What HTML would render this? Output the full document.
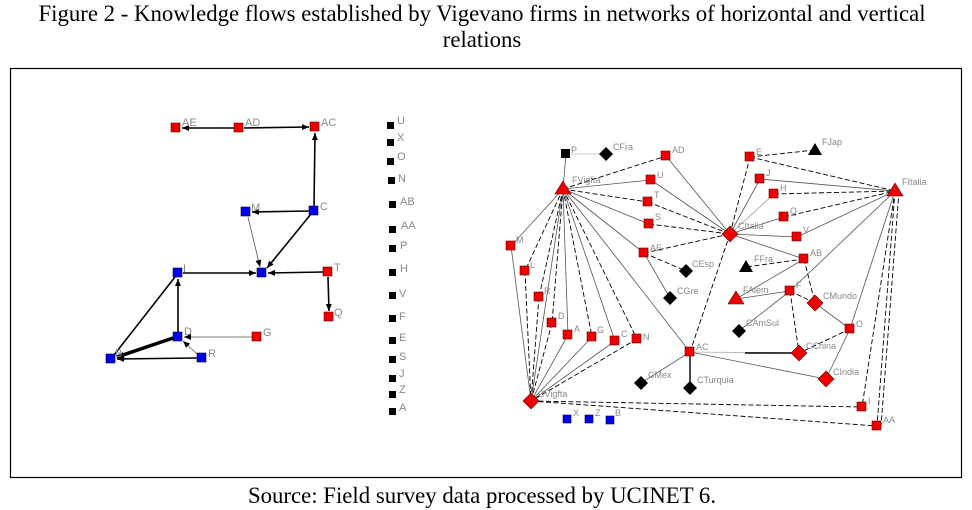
<!DOCTYPE html>
<html><head><meta charset="utf-8"><style>
html,body{margin:0;padding:0;background:#fff;width:972px;height:510px;overflow:hidden}
svg{display:block}
.t{font-family:"Liberation Serif",serif;font-size:22.8px;fill:#000}
.l{font-family:"Liberation Sans",sans-serif;font-size:11px;fill:#888}
.s{font-family:"Liberation Sans",sans-serif;font-size:9px;fill:#888}
.e{stroke:#000;stroke-width:1.6;fill:none}
.g{stroke:#555;stroke-width:0.8;fill:none}
.d{stroke:#000;stroke-width:0.9;stroke-dasharray:5,2.5;fill:none}
.r{fill:#e00;stroke:#600;stroke-width:0.6}
.b{fill:#00e;stroke:#003;stroke-width:0.6}
.k{fill:#000}
</style></head><body>
<svg width="972" height="510" viewBox="0 0 972 510" xmlns="http://www.w3.org/2000/svg">
<defs><marker id="a" markerWidth="8" markerHeight="8" refX="7" refY="3" orient="auto" markerUnits="userSpaceOnUse"><path d="M0,0 L7,3 L0,6 z" fill="#000"/></marker></defs>
<text class="t" x="482" y="21" text-anchor="middle">Figure 2 - Knowledge flows established by Vigevano firms in networks of horizontal and vertical</text>
<text class="t" x="482" y="47" text-anchor="middle">relations</text>
<rect x="10.5" y="68.5" width="951" height="409" fill="none" stroke="#000" stroke-width="1.2"/>
<text class="t" x="482" y="503" text-anchor="middle">Source: Field survey data processed by UCINET 6.</text>

<!-- LEFT GRAPH -->
<g class="e">
<line x1="234" y1="128" x2="182" y2="128" marker-end="url(#a)"/>
<line x1="244" y1="128" x2="309" y2="127" marker-end="url(#a)"/>
<line x1="314" y1="206" x2="315" y2="133" marker-end="url(#a)"/>
<line x1="309" y1="211" x2="252" y2="212" marker-end="url(#a)"/>
<line x1="311" y1="214" x2="267" y2="268" marker-end="url(#a)"/>
<line x1="183" y1="273" x2="256" y2="273" marker-end="url(#a)"/>
<line x1="323" y1="272" x2="268" y2="273" marker-end="url(#a)"/>
<line x1="328" y1="277" x2="329" y2="311" marker-end="url(#a)"/>
<line x1="178" y1="332" x2="178" y2="279" marker-end="url(#a)"/>
<line x1="114" y1="355" x2="175" y2="277"/>
<line x1="197" y1="358" x2="117" y2="359" marker-end="url(#a)"/>
<line x1="173" y1="338" x2="117" y2="357" stroke-width="3.5" marker-end="url(#a)"/>
</g>
<g class="g">
<line x1="248" y1="217" x2="260" y2="267" marker-end="url(#a)"/>
<line x1="252" y1="337" x2="184" y2="337" marker-end="url(#a)"/>
<line x1="198" y1="355" x2="183" y2="341" marker-end="url(#a)"/>
</g>
<g>
<rect class="r" x="171" y="123" width="9" height="9"/><rect class="r" x="234" y="123" width="9" height="9"/><rect class="r" x="310" y="122" width="9" height="9"/>
<rect class="b" x="241" y="207" width="9" height="9"/><rect class="b" x="309" y="206" width="9" height="9"/>
<rect class="b" x="257" y="268" width="9" height="9"/><rect class="b" x="173" y="268" width="9" height="9"/>
<rect class="r" x="323" y="267" width="9" height="9"/><rect class="r" x="324" y="312" width="9" height="9"/>
<rect class="b" x="173" y="332" width="9" height="9"/><rect class="r" x="252" y="332" width="9" height="9"/>
<rect class="b" x="197" y="353" width="9" height="9"/><rect class="b" x="106" y="354" width="9" height="9"/>
</g>
<g class="l">
<text x="182" y="126">AE</text><text x="245" y="126">AD</text><text x="321" y="126">AC</text>
<text x="251" y="211">M</text><text x="320" y="210">C</text><text x="183" y="272">I</text>
<text x="334" y="271">T</text><text x="334" y="316">Q</text><text x="184" y="335">D</text>
<text x="263" y="336">G</text><text x="208" y="357">R</text><text x="115" y="357">B</text>
</g>

<!-- ISOLATES -->
<g class="k">
<rect x="387" y="122" width="7" height="7"/><rect x="387" y="139" width="7" height="7"/><rect x="387" y="158" width="7" height="7"/>
<rect x="388" y="177" width="7" height="7"/><rect x="389" y="201" width="7" height="7"/><rect x="389" y="226" width="7" height="7"/>
<rect x="389" y="245" width="7" height="7"/><rect x="389" y="269" width="7" height="7"/><rect x="389" y="292" width="7" height="7"/>
<rect x="389" y="315" width="7" height="7"/><rect x="389" y="337" width="7" height="7"/><rect x="389" y="356" width="7" height="7"/>
<rect x="389" y="375" width="7" height="7"/><rect x="389" y="391" width="7" height="7"/><rect x="389" y="408" width="7" height="7"/>
</g>
<g class="l">
<text x="397" y="124">U</text><text x="397" y="141">X</text><text x="397" y="160">O</text><text x="398" y="182">N</text>
<text x="400" y="205">AB</text><text x="401" y="229">AA</text><text x="400" y="249">P</text><text x="400" y="272">H</text>
<text x="399" y="297">V</text><text x="399" y="320">F</text><text x="399" y="341">E</text><text x="399" y="360">S</text>
<text x="399" y="377">J</text><text x="399" y="393">Z</text><text x="399" y="411">A</text>
</g>

<!-- RIGHT GRAPH EDGES -->
<g class="g">
<line x1="566" y1="154" x2="563" y2="189"/>
<line x1="566" y1="154" x2="606" y2="154" stroke="#bbb"/>
<line x1="563" y1="189" x2="651" y2="180"/>
<line x1="563" y1="189" x2="649" y2="224"/>
<line x1="563" y1="189" x2="644" y2="253"/>
<line x1="563" y1="189" x2="511" y2="246"/>
<line x1="563" y1="189" x2="568" y2="335"/>
<line x1="563" y1="189" x2="615" y2="341"/>
<line x1="563" y1="189" x2="690" y2="352"/>
<line x1="563" y1="189" x2="531" y2="401"/>
<line x1="644" y1="253" x2="670" y2="298"/>
<line x1="666" y1="156" x2="730" y2="234"/>
<line x1="651" y1="180" x2="730" y2="234"/>
<line x1="730" y1="234" x2="760" y2="179"/>
<line x1="730" y1="234" x2="774" y2="194" stroke="#999"/>
<line x1="730" y1="234" x2="784" y2="217"/>
<line x1="730" y1="234" x2="797" y2="237"/>
<line x1="730" y1="234" x2="804" y2="259"/>
<line x1="760" y1="179" x2="895" y2="191"/>
<line x1="797" y1="237" x2="895" y2="191"/>
<line x1="804" y1="259" x2="736" y2="299"/>
<line x1="790" y1="291" x2="895" y2="191"/>
<line x1="850" y1="329" x2="895" y2="191"/>
<line x1="790" y1="291" x2="736" y2="299"/>
<line x1="790" y1="291" x2="739" y2="331"/>
<line x1="815" y1="303" x2="850" y2="329"/>
<line x1="850" y1="329" x2="826" y2="379"/>
<line x1="690" y1="352" x2="641" y2="383"/>
<line x1="690" y1="352" x2="826" y2="379"/>
<line x1="690" y1="352" x2="799" y2="353" stroke="#aaa"/>
<line x1="531" y1="401" x2="568" y2="335"/>
<line x1="531" y1="401" x2="592" y2="337"/>
<line x1="531" y1="401" x2="615" y2="341"/>
<line x1="511" y1="246" x2="531" y2="401"/>
</g>
<g class="d">
<line x1="563" y1="189" x2="666" y2="156"/>
<line x1="563" y1="189" x2="648" y2="202"/>
<line x1="563" y1="189" x2="525" y2="271"/>
<line x1="563" y1="189" x2="539" y2="297"/>
<line x1="563" y1="189" x2="552" y2="323"/>
<line x1="563" y1="189" x2="592" y2="337"/>
<line x1="563" y1="189" x2="637" y2="339"/>
<line x1="644" y1="253" x2="686" y2="271"/>
<line x1="644" y1="253" x2="730" y2="234"/>
<line x1="648" y1="202" x2="730" y2="234"/>
<line x1="649" y1="224" x2="730" y2="234"/>
<line x1="730" y1="234" x2="750" y2="157"/>
<line x1="730" y1="234" x2="690" y2="352"/>
<line x1="750" y1="157" x2="815" y2="150"/>
<line x1="750" y1="157" x2="895" y2="191"/>
<line x1="774" y1="194" x2="895" y2="191"/>
<line x1="784" y1="217" x2="895" y2="191"/>
<line x1="804" y1="259" x2="746" y2="267"/>
<line x1="804" y1="259" x2="815" y2="303"/>
<line x1="790" y1="291" x2="815" y2="303"/>
<line x1="790" y1="291" x2="799" y2="353"/>
<line x1="850" y1="329" x2="799" y2="353"/>
<line x1="895" y1="191" x2="862" y2="407"/>
<line x1="895" y1="191" x2="877" y2="426"/>
<line x1="899" y1="191" x2="881" y2="426"/>
<line x1="525" y1="271" x2="531" y2="401"/>
<line x1="539" y1="297" x2="531" y2="401"/>
<line x1="552" y1="323" x2="531" y2="401"/>
<line x1="637" y1="339" x2="531" y2="401"/>
<line x1="531" y1="401" x2="862" y2="407"/>
<line x1="531" y1="401" x2="877" y2="426"/>
</g>
<line x1="690" y1="352" x2="690" y2="388" stroke="#000" stroke-width="1.4"/>
<line x1="745" y1="353" x2="799" y2="353" stroke="#000" stroke-width="1.4"/>

<!-- RIGHT GRAPH NODES -->
<rect class="k" x="561" y="149" width="9" height="9"/>
<path class="k" d="M606,147 l7,7 l-7,7 l-7,-7z"/>
<g class="r">
<rect x="661" y="151" width="9" height="9"/><rect x="646" y="175" width="9" height="9"/><rect x="643" y="197" width="9" height="9"/>
<rect x="644" y="219" width="9" height="9"/><rect x="639" y="248" width="9" height="9"/>
<rect x="745" y="152" width="9" height="9"/><rect x="755" y="174" width="9" height="9"/><rect x="769" y="189" width="9" height="9"/>
<rect x="779" y="212" width="9" height="9"/><rect x="792" y="232" width="9" height="9"/><rect x="799" y="254" width="9" height="9"/>
<rect x="785" y="286" width="9" height="9"/><rect x="845" y="324" width="9" height="9"/>
<rect x="506" y="241" width="9" height="9"/><rect x="520" y="266" width="9" height="9"/><rect x="534" y="292" width="9" height="9"/>
<rect x="547" y="318" width="9" height="9"/><rect x="563" y="330" width="9" height="9"/><rect x="587" y="332" width="9" height="9"/>
<rect x="610" y="336" width="9" height="9"/><rect x="632" y="334" width="9" height="9"/><rect x="685" y="347" width="9" height="9"/>
<rect x="857" y="402" width="9" height="9"/><rect x="872" y="421" width="9" height="9"/>
<path d="M563,181 l8,13 h-16z"/><path d="M895,183 l8,13 h-16z"/><path d="M736,291 l8,13 h-16z"/>
<path d="M730,226 l8,8 l-8,8 l-8,-8z"/><path d="M815,295 l8,8 l-8,8 l-8,-8z"/>
<path d="M799,345 l8,8 l-8,8 l-8,-8z"/><path d="M826,371 l8,8 l-8,8 l-8,-8z"/>
<path d="M531,393 l8,8 l-8,8 l-8,-8z"/>
</g>
<g class="k">
<path d="M815,143 l7,12 h-14z"/><path d="M746,260 l7,12 h-14z"/>
<path d="M686,264 l7,7 l-7,7 l-7,-7z"/><path d="M670,291 l7,7 l-7,7 l-7,-7z"/>
<path d="M739,324 l7,7 l-7,7 l-7,-7z"/><path d="M641,376 l7,7 l-7,7 l-7,-7z"/>
<path d="M690,381 l7,7 l-7,7 l-7,-7z"/>
</g>
<g class="b"><rect x="563" y="415" width="8" height="8"/><rect x="585" y="415" width="8" height="8"/><rect x="606" y="416" width="8" height="8"/></g>
<g class="s">
<text x="571" y="153">P</text><text x="613" y="150">CFra</text><text x="672" y="153">AD</text><text x="657" y="178">U</text>
<text x="654" y="198">T</text><text x="655" y="220">S</text><text x="650" y="251">AE</text><text x="572" y="183">FVigfta</text>
<text x="738" y="229">CItalia</text><text x="756" y="155">E</text><text x="822" y="145">FJap</text><text x="766" y="176">J</text>
<text x="780" y="191">H</text><text x="790" y="214">Q</text><text x="803" y="233">V</text><text x="810" y="256">AB</text>
<text x="902" y="185">FItalia</text><text x="754" y="262">FFra</text><text x="692" y="267">CEsp</text><text x="677" y="294">CGre</text>
<text x="516" y="243">M</text><text x="530" y="268">L</text><text x="544" y="294">R</text><text x="558" y="319">D</text>
<text x="574" y="332">A</text><text x="597" y="333">G</text><text x="621" y="337">C</text><text x="643" y="340">N</text>
<text x="696" y="350">AC</text><text x="648" y="378">CMex</text><text x="697" y="383">CTurquia</text><text x="538" y="397">CVigfta</text>
<text x="743" y="293">FAlem</text><text x="796" y="288">F</text><text x="823" y="299">CMundo</text><text x="746" y="326">CAmSul</text>
<text x="806" y="349">CChina</text><text x="856" y="327">O</text><text x="833" y="375">CIndia</text><text x="868" y="404">I</text>
<text x="883" y="423">AA</text><text x="573" y="416">X</text><text x="595" y="416">Z</text><text x="615" y="416">B</text>
</g>
</svg>
</body></html>
